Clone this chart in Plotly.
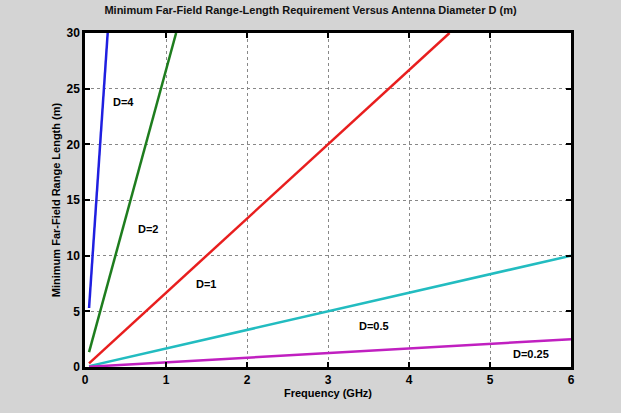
import plotly.graph_objects as go

labels = ["D=4", "D=2", "D=1", "D=0.5", "D=0.25"]
colors = ["#1f1fe0", "#1e7d1e", "#e81e1e", "#22bcc0", "#c020c0"]
freq_start = [0.05, 0.05, 0.05, 0.05, 0.05]
freq_end = [0.28, 1.125, 4.5, 6.0, 6.0]
range_start = [5.3, 1.33, 0.33, 0.08, 0.02]
range_end = [30.0, 30.0, 30.0, 10.0, 2.5]
label_x = [0.48, 0.78, 1.5, 3.57, 5.5]
label_y = [23.8, 12.4, 7.45, 3.7, 1.2]

fig = go.Figure()
for i in range(len(labels)):
    fig.add_trace(go.Scatter(x=[freq_start[i], freq_end[i]], y=[range_start[i], range_end[i]],
                             mode="lines", line=dict(color=colors[i], width=2.5),
                             showlegend=False, cliponaxis=True))
for i in range(len(labels)):
    fig.add_annotation(x=label_x[i], y=label_y[i], text="<b>" + labels[i] + "</b>",
                       showarrow=False, font=dict(size=11, color="black", family="Arial"))

axis_common = dict(showline=True, linecolor="black", linewidth=2.5, mirror="ticks",
                   ticks="inside", ticklen=5, tickcolor="black", tickwidth=1.5,
                   showgrid=True, gridcolor="#888", griddash="dot", gridwidth=1,
                   zeroline=False,
                   tickfont=dict(size=12, family="Arial", color="black", weight="bold"))

fig.update_layout(
    width=621, height=413,
    margin=dict(l=85, r=50, t=33, b=46),
    paper_bgcolor="#d4d4d4", plot_bgcolor="white",
    title=dict(text="<b>Minimum Far-Field Range-Length Requirement Versus Antenna Diameter D (m)</b>",
               x=0.5, xanchor="center", y=0.975, yanchor="middle",
               font=dict(size=11, family="Arial", color="#111")),
    xaxis=dict(range=[0, 6], tickvals=[0, 1, 2, 3, 4, 5, 6],
               title=dict(text="<b>Frequency (GHz)</b>", standoff=2,
                          font=dict(size=11, family="Arial", color="black")),
               **axis_common),
    yaxis=dict(range=[0, 30], tickvals=[0, 5, 10, 15, 20, 25, 30],
               title=dict(text="<b>Minimum Far-Field Range Length (m)</b>", standoff=4,
                          font=dict(size=11, family="Arial", color="black")),
               **axis_common),
)
fig.write_html("out.html")
